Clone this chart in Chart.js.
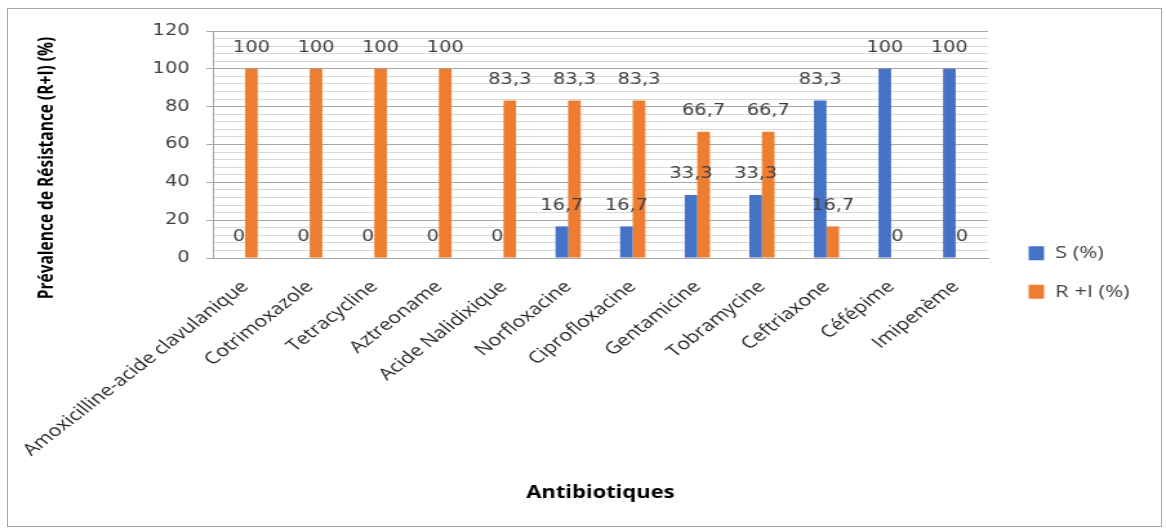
<!DOCTYPE html>
<html>
<head>
<meta charset="utf-8">
<script src="https://cdn.jsdelivr.net/npm/chart.js@4"></script>
<style>
  html, body { margin: 0; padding: 0; background: #fff; }
  #frame { position: absolute; left: 7px; top: 8px; width: 1153px; height: 517px; border: 1px solid #a6a6a6; }
  /* the source picture is stretched horizontally, so draw narrow and scale the wrapper */
  #wrap { position: absolute; left: 0; top: 0; width: 904px; height: 528px; transform: scaleX(1.2898); transform-origin: 0 0; }
</style>
</head>
<body>
<div id="frame"></div>
<div id="wrap"><canvas id="myChart" width="904" height="528"></canvas></div>
<script>
const antibiotics = ['Amoxicilline-acide clavulanique', 'Cotrimoxazole', 'Tetracycline', 'Aztreoname',
    'Acide Nalidixique', 'Norfloxacine', 'Ciprofloxacine', 'Gentamicine', 'Tobramycine',
    'Ceftriaxone', 'Céfépime', 'Imipenème'];
const sensible = [0, 0, 0, 0, 0, 16.7, 16.7, 33.3, 33.3, 83.3, 100, 100];
const resistant = [100, 100, 100, 100, 83.3, 83.3, 83.3, 66.7, 66.7, 16.7, 0, 0];
const seriesNames = ['S (%)', 'R +I (%)'];
const yTitle = 'Prévalence de Résistance (R+I) (%)';
const xTitle = 'Antibiotiques';

Chart.defaults.font.family = '"Open Sans", sans-serif';

// value above each bar, decimal comma like the source
const valueLabels = {
    id: 'valueLabels',
    afterDatasetsDraw(chart) {
        const ctx = chart.ctx;
        ctx.save();
        ctx.font = '15px "DejaVu Sans"';
        ctx.fillStyle = '#404040';
        ctx.textAlign = 'center';
        ctx.textBaseline = 'middle';
        chart.data.datasets.forEach((ds, i) => {
            chart.getDatasetMeta(i).data.forEach((bar, j) => {
                ctx.fillText(String(ds.data[j]).replace('.', ','), bar.x, bar.y - 20.5);
            });
        });
        ctx.restore();
    }
};

// y title sits lower than the plot centre in the source
const sideTitle = {
    id: 'sideTitle',
    afterDraw(chart) {
        const ctx = chart.ctx;
        ctx.save();
        ctx.translate(37, 168);
        ctx.rotate(-Math.PI / 2);
        ctx.font = 'bold 15.5px "Open Sans"';
        ctx.fillStyle = '#000';
        ctx.textAlign = 'center';
        ctx.textBaseline = 'middle';
        ctx.fillText(yTitle, 0, 0);
        ctx.restore();
    }
};

// move the legend block to where the source has it
const legendNudge = {
    id: 'legendNudge',
    afterLayout(chart) {
        const lg = chart.legend;
        lg.left += 10; lg.right += 10;
        lg.top -= 7; lg.bottom -= 7;
    }
};

const isMajor = (ctx) => ctx.tick && ctx.tick.value % 20 === 0;

const config = {
    type: 'bar',
    data: {
        labels: antibiotics,
        datasets: [{
            label: seriesNames[0],
            data: sensible,
            backgroundColor: '#4472C4'
        },
        {
            label: seriesNames[1],
            data: resistant,
            backgroundColor: '#ED7D31'
        }]
    },
    options: {
        responsive: false,
        animation: false,
        layout: { padding: { left: 0, top: 31, right: 38, bottom: 0 } },
        datasets: { bar: { categoryPercentage: 0.39, barPercentage: 1 } },
        plugins: {
            legend: {
                position: 'right',
                maxWidth: 100,
                labels: {
                    boxWidth: 12,
                    boxHeight: 14,
                    padding: 21.5,
                    color: '#404040',
                    font: { size: 17 }
                }
            },
            tooltip: { enabled: false }
        },
        scales: {
            x: {
                grid: { display: false, drawTicks: false },
                border: { display: true, color: '#a6a6a6', width: 1 },
                ticks: {
                    minRotation: 45,
                    maxRotation: 45,
                    autoSkip: false,
                    padding: 19,
                    color: '#262626',
                    font: { size: 16.5 }
                },
                title: {
                    display: true,
                    text: xTitle,
                    color: '#000',
                    font: { size: 17, weight: 'bold' },
                    padding: { top: 0, bottom: 25 }
                },
                afterFit: (scale) => {
                    scale.height = 270;
                    // long first label may hang into the y axis area, as in the source
                    scale.paddingLeft = 0;
                    scale.paddingRight = 0;
                }
            },
            y: {
                min: 0,
                max: 120,
                ticks: {
                    stepSize: 4,
                    autoSkip: false,
                    padding: 13,
                    color: '#404040',
                    font: { size: 15, family: '"DejaVu Sans"' },
                    callback: (v) => (v % 20 === 0 ? v : '')
                },
                grid: {
                    color: (ctx) => (isMajor(ctx) ? '#a6a6a6' : '#d9d9d9'),
                    tickColor: (ctx) => (isMajor(ctx) ? '#a6a6a6' : 'rgba(0,0,0,0)'),
                    tickLength: 5
                },
                border: { display: true, color: '#a6a6a6' },
                afterFit: (scale) => { scale.width = 165; }
            }
        }
    },
    plugins: [valueLabels, sideTitle, legendNudge]
};

const myChart = new Chart(document.getElementById('myChart'), config);
</script>
</body>
</html>
